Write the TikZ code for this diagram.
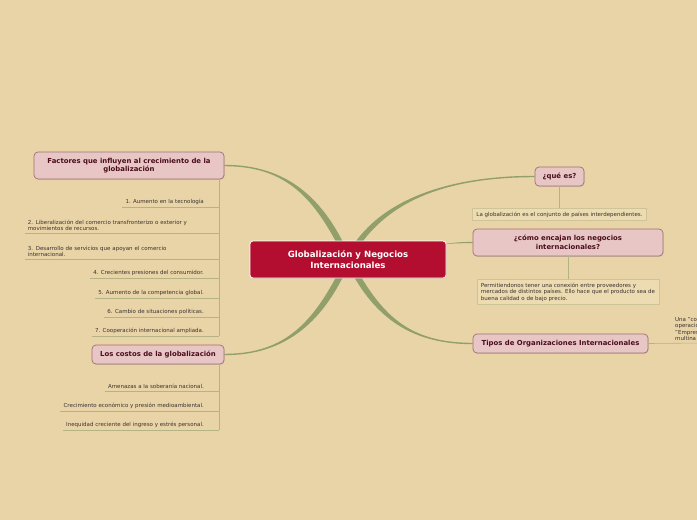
\documentclass[tikz,border=0pt]{standalone}
\usepackage{fontspec}
\setmainfont{DejaVu Sans}
\usetikzlibrary{positioning,shadows,backgrounds}
\definecolor{paper}{HTML}{E9D4A8}
\definecolor{crimson}{HTML}{B30D2F}
\definecolor{rose}{HTML}{E7C6C5}
\definecolor{roseline}{HTML}{A26F70}
\definecolor{maroon}{HTML}{4A0D1D}
\definecolor{branch}{HTML}{919F6B}
\definecolor{twig}{HTML}{B5B384}
\definecolor{leaftext}{HTML}{3A3330}
\definecolor{leaffill}{HTML}{EDDBB1}
\definecolor{leafline}{HTML}{CDC597}
\tikzset{
  root/.style={draw=white, fill=crimson, rounded corners=3pt, line width=0.8pt,
               text=white, font=\fontsize{8.6}{10.5}\selectfont\bfseries, align=center,
               minimum width=196pt, minimum height=37pt, inner sep=0pt,
               drop shadow={shadow xshift=0.6pt, shadow yshift=-0.8pt, opacity=0.25}},
  topic/.style={draw=roseline, fill=rose, rounded corners=4pt, line width=0.7pt,
                text=maroon, font=\fontsize{6.9}{8.6}\selectfont\bfseries, align=center,
                inner sep=0pt,
                drop shadow={shadow xshift=0.6pt, shadow yshift=-0.8pt, opacity=0.25}},
  leaf/.style={text=leaftext, font=\fontsize{5.5}{6.5}\selectfont,
               inner xsep=3pt, inner ysep=2pt, anchor=south east},
  leafbox/.style={draw=leafline, fill=leaffill, line width=0.6pt, text=leaftext,
                  font=\fontsize{5.5}{6.5}\selectfont, inner xsep=4pt, inner ysep=3pt,
                  align=left},
  twigline/.style={draw=twig, line width=0.6pt}
}
\begin{document}
\begin{tikzpicture}[x=1pt,y=-1pt]
  \useasboundingbox (0,0) rectangle (697,520);
  \clip (0,0) rectangle (697,520);

  \node[root] (glob) at (348,259.5) {Globalización y Negocios\\Internacionales};

  \node[topic,minimum width=190pt,minimum height=27pt] (fac) at (129,165.5)
    {Factores que influyen al crecimiento de la\\globalización};
  \node[topic,minimum width=132pt,minimum height=19pt] (cos) at (158,354.5)
    {Los costos de la globalización};
  \node[topic,minimum width=49pt,minimum height=19pt] (que) at (559.5,176.5)
    {¿qué es?};
  \node[topic,minimum width=190pt,minimum height=27pt] (como) at (568,242.5)
    {¿cómo encajan los negocios\\internacionales?};
  \node[topic,minimum width=175pt,minimum height=19pt] (tip) at (560.5,343.5)
    {Tipos de Organizaciones Internacionales};

  \begin{pgfonlayer}{background}
    \fill[paper] (0,0) rectangle (697,520);
    % tapered branches
    \fill[branch] ([yshift=-0.7pt]fac.east) .. controls +(62,0) and +(-30,-62) .. ([xshift=-3pt]glob.center)
      -- ([xshift=3pt]glob.center) .. controls +(-26,-62) and +(62,0) .. ([yshift=0.7pt]fac.east) -- cycle;
    \fill[branch] ([yshift=0.7pt]cos.east) .. controls +(62,0) and +(-30,62) .. ([xshift=-3pt]glob.center)
      -- ([xshift=3pt]glob.center) .. controls +(-26,62) and +(62,0) .. ([yshift=-0.7pt]cos.east) -- cycle;
    \fill[branch] ([yshift=-0.7pt]que.west) .. controls +(-95,0) and +(30,-55) .. ([xshift=3pt]glob.center)
      -- ([xshift=-3pt]glob.center) .. controls +(26,-55) and +(-95,0) .. ([yshift=0.7pt]que.west) -- cycle;
    \fill[branch] ([yshift=-0.6pt]como.west) .. controls +(-60,0) and +(60,-3) .. ([yshift=2.5pt]glob.center)
      -- ([yshift=-2.5pt]glob.center) .. controls +(60,3) and +(-60,0) .. ([yshift=0.6pt]como.west) -- cycle;
    \fill[branch] ([yshift=0.7pt]tip.west) .. controls +(-65,0) and +(30,55) .. ([xshift=3pt]glob.center)
      -- ([xshift=-3pt]glob.center) .. controls +(26,55) and +(-65,0) .. ([yshift=-0.7pt]tip.west) -- cycle;
  \end{pgfonlayer}

  % factores
  \coordinate (facroot) at ([xshift=-5pt]fac.south east);
  \node[leaf] (fac1) at (207,207) {1. Aumento en la tecnología};
  \node[leaf,text width=176pt,align=left] (fac2) at (207,233)
    {2. Liberalización del comercio transfronterizo o exterior y\\movimientos de recursos.};
  \node[leaf,text width=176pt,align=left] (fac3) at (207,259)
    {3. Desarrollo de servicios que apoyan el comercio\\internacional.};
  \node[leaf] (fac4) at (207,278) {4. Crecientes presiones del consumidor.};
  \node[leaf] (fac5) at (207,298) {5. Aumento de la competencia global.};
  \node[leaf] (fac6) at (207,317) {6. Cambio de situaciones políticas.};
  \node[leaf] (fac7) at (207,336) {7. Cooperación internacional ampliada.};
  \draw[twigline] (facroot) -- (facroot |- fac7.south);
  \foreach \i in {1,...,7}
    \draw[twigline] (fac\i.south west) -- (fac\i.south west -| facroot);

  % costos
  \coordinate (cosroot) at ([xshift=-5pt]cos.south east);
  \node[leaf] (cos1) at (207,391) {Amenazas a la soberanía nacional.};
  \node[leaf] (cos2) at (207,411) {Crecimiento económico y presión medioambiental.};
  \node[leaf] (cos3) at (207,430) {Inequidad creciente del ingreso y estrés personal.};
  \draw[twigline] (cosroot) -- (cosroot |- cos3.south);
  \foreach \i in {1,2,3}
    \draw[twigline] (cos\i.south west) -- (cos\i.south west -| cosroot);

  % right side
  \node[leafbox,below=22pt of que] (queleaf)
    {La globalización es el conjunto de países interdependientes.};
  \draw[twigline] (que.south) -- (queleaf.north);
  \node[leafbox,below=23pt of como] (comoleaf)
    {Permitiendonos tener una conexión entre proveedores y\\mercados de distintos países. Ello hace que el producto sea de\\buena calidad o de bajo precio.};
  \draw[twigline] (como.south) -- (comoleaf.north);
  \node[leaf,anchor=south west,align=left] (tipleaf) at (672,343)
    {Una "co\\operacio\\"Empres\\multina};
  \draw[twigline] (tip.east) -- (tipleaf.south east);
\end{tikzpicture}
\end{document}
